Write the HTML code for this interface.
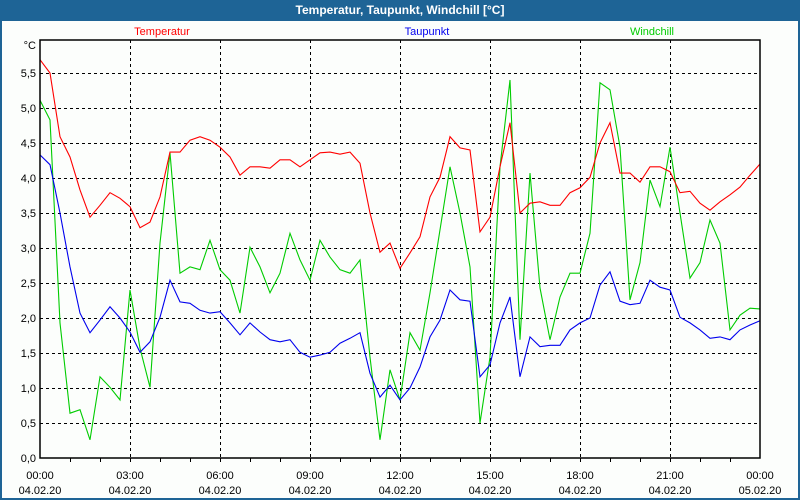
<!DOCTYPE html>
<html><head><meta charset="utf-8"><style>
body{margin:0;background:#fff;}
svg{display:block;font-family:"Liberation Sans",sans-serif;}
</style></head><body>
<svg width="800" height="500" viewBox="0 0 800 500">
<rect x="0" y="0" width="800" height="500" fill="#1e6496"/>
<rect x="2" y="21" width="796" height="477" fill="#fcfefc"/>
<text x="400" y="14" text-anchor="middle" fill="#fff" font-size="12" font-weight="bold">Temperatur, Taupunkt, Windchill [°C]</text>
<text x="162" y="35" text-anchor="middle" fill="#ff0000" font-size="11">Temperatur</text>
<text x="427" y="35" text-anchor="middle" fill="#0000ee" font-size="11">Taupunkt</text>
<text x="652" y="35" text-anchor="middle" fill="#00cc00" font-size="11">Windchill</text>
<text x="36" y="49" text-anchor="end" font-size="11">°C</text>
<g id="grid"></g>
<g id="series"></g>
<rect x="40" y="40" width="720" height="418" fill="none" stroke="#000" stroke-width="1.5"/>
<g id="axes"></g>
</svg>
<script>
const hours = [];
for (let i = 0; i <= 72; i++) hours.push(i / 3);
const yTicks = [0,0.5,1,1.5,2,2.5,3,3.5,4,4.5,5,5.5];
const yTickLabels = ["0,0","0,5","1,0","1,5","2,0","2,5","3,0","3,5","4,0","4,5","5,0","5,5"];
const xTickHours = [0,3,6,9,12,15,18,21,24];
const xTimeLabels = ["00:00","03:00","06:00","09:00","12:00","15:00","18:00","21:00","00:00"];
const xDateLabels = ["04.02.20","04.02.20","04.02.20","04.02.20","04.02.20","04.02.20","04.02.20","04.02.20","05.02.20"];
const temperatur = [5.69,5.5,4.59,4.3,3.83,3.44,3.61,3.79,3.71,3.59,3.29,3.37,3.73,4.37,4.37,4.54,4.59,4.54,4.44,4.3,4.04,4.16,4.16,4.14,4.26,4.26,4.16,4.26,4.36,4.37,4.34,4.37,4.21,3.5,2.94,3.07,2.71,2.93,3.16,3.73,4.01,4.59,4.43,4.4,3.23,3.44,4.16,4.79,3.5,3.64,3.66,3.61,3.61,3.79,3.86,4.01,4.5,4.79,4.07,4.07,3.94,4.16,4.16,4.09,3.79,3.81,3.64,3.54,3.66,3.76,3.87,4.04,4.2];
const taupunkt = [4.33,4.19,3.5,2.73,2.07,1.79,1.97,2.16,2.0,1.8,1.51,1.66,2.01,2.54,2.23,2.21,2.11,2.07,2.09,1.93,1.76,1.93,1.8,1.69,1.66,1.69,1.51,1.44,1.47,1.51,1.64,1.71,1.79,1.21,0.87,1.04,0.83,1.0,1.3,1.73,1.97,2.4,2.26,2.24,1.16,1.33,1.93,2.3,1.16,1.73,1.59,1.61,1.61,1.83,1.93,2.0,2.47,2.66,2.24,2.19,2.21,2.54,2.44,2.4,2.01,1.93,1.83,1.71,1.73,1.69,1.83,1.9,1.96];
const windchill = [5.11,4.83,1.93,0.64,0.69,0.26,1.16,1.01,0.83,2.4,1.57,1.01,3.07,4.36,2.64,2.73,2.69,3.11,2.69,2.54,2.07,3.01,2.73,2.36,2.64,3.21,2.83,2.54,3.11,2.87,2.69,2.64,2.83,1.44,0.26,1.26,0.83,1.79,1.54,2.36,3.26,4.16,3.5,2.73,0.5,1.44,4.16,5.4,1.69,4.07,2.43,1.69,2.3,2.64,2.64,3.21,5.36,5.26,4.44,2.26,2.79,3.97,3.59,4.44,3.5,2.57,2.79,3.4,3.07,1.83,2.04,2.14,2.13];

const NS = "http://www.w3.org/2000/svg";
const xs = h => 40 + h * 30;
const ys = v => 458 - v * 70;
function mk(tag, attrs, parent) {
  const el = document.createElementNS(NS, tag);
  for (const k in attrs) el.setAttribute(k, attrs[k]);
  parent.appendChild(el);
  return el;
}
const grid = document.getElementById('grid');
const axes = document.getElementById('axes');
const series = document.getElementById('series');
yTicks.forEach((v, i) => {
  if (v > 0) {
    const l = mk('line', {x1:40, x2:760, y1:ys(v)+0.5, y2:ys(v)+0.5, stroke:'#000', 'stroke-dasharray':'3,3'}, grid);
    
    
  }
  const t = mk('text', {x:36, y:ys(v)+4, 'text-anchor':'end', 'font-size':11}, axes);
  t.textContent = yTickLabels[i];
  
  
});
for (let h = 1; h < 24; h++) {
  const tk = mk('line', {x1:xs(h)+0.5, x2:xs(h)+0.5, y1:458, y2:462, stroke:'#000'}, axes);
  
  
}
xTickHours.forEach((h, i) => {
  if (h > 0 && h < 24) {
    const l = mk('line', {x1:xs(h)+0.5, x2:xs(h)+0.5, y1:40, y2:458, stroke:'#000', 'stroke-dasharray':'3,3'}, grid);
    
    
  }
  const t1 = mk('text', {x:xs(h), y:479, 'text-anchor':'middle', 'font-size':11}, axes);
  t1.textContent = xTimeLabels[i];
  
  
  const t2 = mk('text', {x:xs(h), y:494, 'text-anchor':'middle', 'font-size':11}, axes);
  t2.textContent = xDateLabels[i];
  
  
});
function drawLine(vals, color, name) {
  const pts = vals.map((v, i) => xs(hours[i]).toFixed(1) + ',' + ys(v).toFixed(1)).join(' ');
  const p = mk('polyline', {points:pts, fill:'none', stroke:color, 'stroke-width':1.1}, series);
  
  
}
drawLine(windchill, '#00cc00', 'windchill-line');
drawLine(temperatur, '#ff0000', 'temperatur-line');
drawLine(taupunkt, '#0000ee', 'taupunkt-line');
</script>
</body></html>
